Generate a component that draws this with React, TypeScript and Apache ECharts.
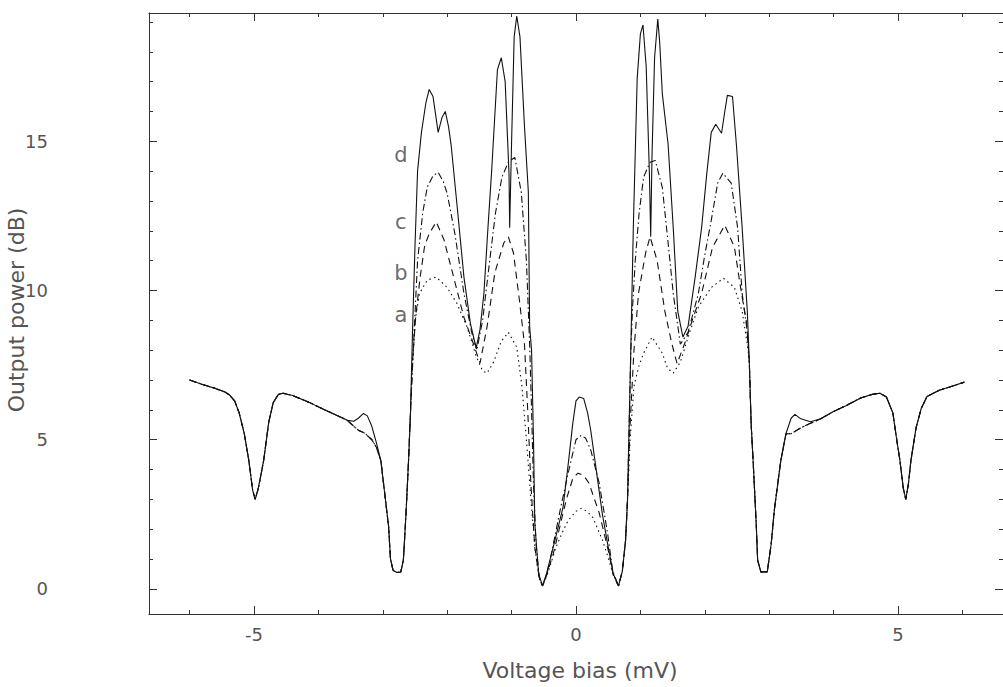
import React, { useEffect, useRef } from "react";
import * as echarts from "echarts";

// ---- data (Voltage bias mV, Output power dB) ----
const leftWing: number[][] = [
  [-6.0, 7.0], [-5.8, 6.85], [-5.6, 6.72], [-5.45, 6.6], [-5.38, 6.5], [-5.3, 6.3], [-5.23, 5.9],
  [-5.15, 5.2], [-5.08, 4.3], [-5.02, 3.3], [-4.98, 3.0], [-4.93, 3.4], [-4.85, 4.3], [-4.77, 5.6],
  [-4.7, 6.25], [-4.62, 6.52], [-4.55, 6.56], [-4.4, 6.48], [-4.15, 6.26], [-3.9, 6.0], [-3.7, 5.8],
  [-3.55, 5.65],
];
const leftShoulderD: number[][] = [[-3.45, 5.62], [-3.38, 5.72], [-3.3, 5.88], [-3.24, 5.8], [-3.17, 5.45], [-3.1, 4.9]];
const leftShoulderABC: number[][] = [[-3.45, 5.45], [-3.38, 5.32], [-3.28, 5.22], [-3.17, 5.0], [-3.1, 4.75]];
const leftDrop: number[][] = [
  [-3.03, 4.3], [-2.97, 3.2], [-2.91, 2.1], [-2.88, 1.0], [-2.84, 0.62], [-2.78, 0.55], [-2.72, 0.57],
  [-2.68, 0.97], [-2.64, 2.5], [-2.6, 4.3], [-2.57, 5.9],
];
const rightDrop: number[][] = [
  [2.72, 5.5], [2.75, 4.3], [2.8, 2.1], [2.82, 0.97], [2.87, 0.57], [2.97, 0.57], [3.03, 1.5],
  [3.08, 2.65], [3.18, 4.3], [3.26, 5.2],
];
const rightShoulderD: number[][] = [[3.34, 5.72], [3.4, 5.85], [3.49, 5.7], [3.64, 5.6]];
const rightShoulderABC: number[][] = [[3.34, 5.2], [3.49, 5.4], [3.64, 5.55]];
const rightWing: number[][] = [
  [3.8, 5.7], [4.0, 5.95], [4.2, 6.15], [4.42, 6.4], [4.6, 6.52], [4.72, 6.56], [4.82, 6.43],
  [4.92, 5.9], [4.98, 5.0], [5.03, 4.3], [5.08, 3.4], [5.12, 3.0], [5.16, 3.5], [5.2, 4.3],
  [5.28, 5.4], [5.36, 6.05], [5.45, 6.45], [5.64, 6.66], [5.85, 6.8], [6.03, 6.93],
];

const coreD: number[][] = [
  [-2.54, 8.5], [-2.5, 11.5], [-2.46, 14.0], [-2.4, 15.3], [-2.33, 16.3], [-2.28, 16.74], [-2.22, 16.5],
  [-2.14, 15.3], [-2.08, 15.8], [-2.03, 16.0], [-1.98, 15.5], [-1.94, 14.9], [-1.84, 12.7], [-1.74, 10.45],
  [-1.64, 8.9], [-1.55, 8.07], [-1.49, 8.7], [-1.43, 9.9], [-1.37, 12.0], [-1.31, 14.0], [-1.22, 17.4],
  [-1.16, 17.8], [-1.1, 17.0], [-1.04, 13.9], [-1.03, 12.1], [-1.0, 15.0], [-0.96, 18.5], [-0.92, 19.2],
  [-0.87, 18.5], [-0.8, 15.5], [-0.74, 13.3], [-0.72, 8.8], [-0.69, 8.0], [-0.66, 5.0], [-0.64, 2.2],
  [-0.58, 0.5], [-0.52, 0.1], [-0.46, 0.5], [-0.33, 1.6], [-0.2, 2.75], [-0.12, 4.2], [-0.05, 5.55],
  [0.0, 6.3], [0.05, 6.43], [0.12, 6.38], [0.18, 5.9], [0.23, 5.3], [0.32, 3.9], [0.41, 2.5], [0.5, 1.4],
  [0.58, 0.5], [0.66, 0.1], [0.72, 0.6], [0.77, 1.64], [0.8, 3.0], [0.82, 5.0], [0.85, 7.9], [0.89, 12.1],
  [0.95, 17.1], [1.0, 18.6], [1.04, 18.9], [1.09, 17.5], [1.14, 13.9], [1.16, 11.8], [1.18, 14.5],
  [1.22, 17.8], [1.27, 19.1], [1.3, 18.3], [1.34, 16.6], [1.43, 14.9], [1.51, 12.1], [1.58, 9.3],
  [1.66, 8.44], [1.74, 8.8], [1.85, 10.45], [1.95, 12.1], [2.03, 13.9], [2.1, 15.3], [2.17, 15.57],
  [2.26, 15.27], [2.31, 16.0], [2.35, 16.54], [2.43, 16.5], [2.49, 14.9], [2.58, 12.1], [2.66, 9.3],
  [2.69, 7.67],
];
const coreC: number[][] = [
  [-2.51, 8.77], [-2.46, 11.0], [-2.38, 12.6], [-2.31, 13.46], [-2.22, 13.85], [-2.14, 13.96],
  [-2.06, 13.65], [-2.0, 13.25], [-1.88, 11.9], [-1.74, 9.9], [-1.62, 8.6], [-1.54, 8.0], [-1.45, 9.0],
  [-1.34, 11.0], [-1.25, 12.6], [-1.15, 13.8], [-1.05, 14.3], [-0.95, 14.46], [-0.85, 13.3], [-0.77, 11.0],
  [-0.72, 8.2], [-0.69, 6.0], [-0.66, 3.5], [-0.62, 1.5], [-0.57, 0.4], [-0.52, 0.1], [-0.45, 0.5],
  [-0.38, 1.2], [-0.25, 2.6], [-0.12, 3.9], [0.0, 5.0], [0.08, 5.15], [0.15, 5.05], [0.23, 4.65],
  [0.36, 3.55], [0.49, 1.87], [0.57, 0.6], [0.66, 0.1], [0.72, 0.6], [0.77, 1.64], [0.8, 3.0], [0.82, 5.0],
  [0.85, 7.9], [0.88, 9.5], [0.92, 11.0], [0.98, 12.6], [1.05, 13.8], [1.15, 14.3], [1.23, 14.36],
  [1.34, 13.46], [1.43, 11.6], [1.51, 9.9], [1.62, 8.2], [1.74, 8.6], [1.9, 9.9], [2.0, 11.2],
  [2.1, 12.35], [2.2, 13.6], [2.28, 13.93], [2.41, 13.6], [2.51, 12.1], [2.58, 9.9], [2.65, 8.77],
  [2.69, 7.67],
];
const coreB: number[][] = [
  [-2.54, 7.57], [-2.49, 9.1], [-2.42, 10.45], [-2.35, 11.5], [-2.28, 11.9], [-2.17, 12.3], [-2.05, 11.7],
  [-1.9, 10.45], [-1.74, 9.1], [-1.59, 8.2], [-1.49, 7.57], [-1.38, 8.8], [-1.26, 10.6], [-1.12, 11.6],
  [-1.05, 11.8], [-0.97, 11.25], [-0.88, 9.7], [-0.8, 8.2], [-0.75, 6.0], [-0.7, 3.5], [-0.64, 1.4],
  [-0.57, 0.35], [-0.52, 0.1], [-0.45, 0.5], [-0.35, 1.2], [-0.25, 2.1], [-0.15, 3.0], [-0.05, 3.7],
  [0.03, 3.88], [0.12, 3.8], [0.2, 3.55], [0.36, 2.55], [0.5, 1.3], [0.58, 0.45], [0.66, 0.1], [0.72, 0.6],
  [0.77, 1.64], [0.8, 3.0], [0.84, 5.5], [0.9, 8.0], [0.97, 9.9], [1.08, 11.25], [1.15, 11.8], [1.26, 11.0],
  [1.38, 9.3], [1.49, 8.2], [1.57, 7.55], [1.7, 8.3], [1.82, 9.1], [1.95, 9.9], [2.12, 11.45], [2.31, 12.19],
  [2.46, 11.45], [2.57, 9.9], [2.65, 8.9], [2.69, 7.67],
];
const coreA: number[][] = [
  [-2.54, 7.57], [-2.49, 9.1], [-2.43, 9.9], [-2.31, 10.35], [-2.17, 10.45], [-2.0, 10.1], [-1.85, 9.57],
  [-1.69, 8.77], [-1.55, 7.8], [-1.45, 7.3], [-1.38, 7.23], [-1.28, 7.6], [-1.16, 8.3], [-1.05, 8.6],
  [-0.92, 8.1], [-0.84, 6.8], [-0.77, 5.0], [-0.7, 3.0], [-0.63, 1.2], [-0.57, 0.35], [-0.52, 0.1],
  [-0.45, 0.45], [-0.31, 1.4], [-0.2, 1.95], [-0.12, 2.3], [0.0, 2.6], [0.08, 2.7], [0.17, 2.6],
  [0.26, 2.4], [0.41, 1.64], [0.5, 1.05], [0.57, 0.53], [0.66, 0.1], [0.72, 0.6], [0.77, 1.64], [0.8, 3.0],
  [0.84, 5.0], [0.9, 6.8], [0.98, 7.5], [1.05, 7.9], [1.18, 8.44], [1.34, 7.9], [1.42, 7.4], [1.51, 7.23],
  [1.62, 7.6], [1.75, 8.5], [1.9, 9.45], [2.1, 10.1], [2.29, 10.41], [2.46, 10.1], [2.58, 9.3],
  [2.66, 8.2], [2.69, 7.67],
];

const curveLabels: (number | string)[][] = [
  [-2.72, 14.53, "d"], [-2.72, 12.3, "c"], [-2.72, 10.58, "b"], [-2.72, 9.18, "a"],
];

const xMajor = [-5, 0, 5];
const xMinor = [-6, -5, -4, -3, -2, -1, 0, 1, 2, 3, 4, 5, 6];
const yMajor = [0, 5, 10, 15];
const yMinor = [0, 1, 2, 3, 4, 5, 6, 7, 8, 9, 10, 11, 12, 13, 14, 15, 16, 17, 18, 19];

const X_MIN = -6.63, X_MAX = 6.63, Y_MIN = -0.84, Y_MAX = 19.3;

export default function App() {
  const ref = useRef<HTMLDivElement>(null);
  useEffect(() => {
    if (!ref.current) return;
    const chart = echarts.init(ref.current, undefined, { renderer: "svg" });
    const axisColor = "#333";
    const textColor = "#555";
    const font = "DejaVu Sans";
    const lineStyleAxis = { color: axisColor, width: 1 };

    const mkX = (pos: string, ticks: number[], len: number, labels: boolean, line: boolean) => ({
      type: "value", min: X_MIN, max: X_MAX, position: pos, gridIndex: 0,
      axisLine: { show: line, onZero: false, lineStyle: lineStyleAxis },
      axisTick: { show: true, inside: true, length: len, customValues: ticks, lineStyle: lineStyleAxis },
      axisLabel: labels
        ? { show: true, customValues: xMajor, margin: 11, fontSize: 18, color: textColor, fontFamily: font }
        : { show: false },
      splitLine: { show: false },
    });
    const mkY = (pos: string, ticks: number[], len: number, labels: boolean, line: boolean) => ({
      type: "value", min: Y_MIN, max: Y_MAX, position: pos, gridIndex: 0,
      axisLine: { show: line, onZero: false, lineStyle: lineStyleAxis },
      axisTick: { show: true, inside: true, length: len, customValues: ticks, lineStyle: lineStyleAxis },
      axisLabel: labels
        ? { show: true, customValues: yMajor, margin: 101, fontSize: 18, color: textColor, fontFamily: font }
        : { show: false },
      splitLine: { show: false },
    });

    const lineSeries = (name: string, data: number[][], type: any) => ({
      name, type: "line", data, xAxisIndex: 0, yAxisIndex: 0, showSymbol: false, symbol: "none",
      lineStyle: { color: "#111", width: 1.1, type }, silent: true,
    });

    const seriesD = [...leftWing, ...leftShoulderD, ...leftDrop, ...coreD, ...rightDrop, ...rightShoulderD, ...rightWing];
    const seriesC = [...leftWing, ...leftShoulderABC, ...leftDrop, ...coreC, ...rightDrop, ...rightShoulderABC, ...rightWing];
    const seriesB = [...leftWing, ...leftShoulderABC, ...leftDrop, ...coreB, ...rightDrop, ...rightShoulderABC, ...rightWing];
    const seriesA = [...leftWing, ...leftShoulderABC, ...leftDrop, ...coreA, ...rightDrop, ...rightShoulderABC, ...rightWing];

    chart.setOption({
      animation: false,
      backgroundColor: "#fff",
      grid: { left: 149, right: -8, top: 13, bottom: 73, containLabel: false },
      xAxis: [
        mkX("bottom", xMajor, 8, true, true),
        mkX("bottom", xMinor, 4, false, false),
        mkX("top", xMajor, 8, false, true),
        mkX("top", xMinor, 4, false, false),
      ],
      yAxis: [
        mkY("left", yMajor, 8, true, true),
        mkY("left", yMinor, 4, false, false),
        mkY("right", yMajor, 8, false, true),
        mkY("right", yMinor, 4, false, false),
      ],
      series: [
        lineSeries("a", seriesA, [1.5, 3.5]),
        lineSeries("b", seriesB, [7, 5]),
        lineSeries("c", seriesC, [7, 3, 1.5, 3]),
        lineSeries("d", seriesD, "solid"),
        {
          type: "scatter", xAxisIndex: 0, yAxisIndex: 0, symbolSize: 0, silent: true,
          data: curveLabels,
          label: {
            show: true, position: "inside", fontSize: 21, color: "#444", fontFamily: font,
            formatter: (p: any) => p.data[2],
          },
        },
      ],
      graphic: [
        {
          type: "text", x: 580, y: 670,
          style: {
            text: "Voltage bias (mV)", fontSize: 22, fill: textColor, fontFamily: font,
            align: "center", verticalAlign: "middle", textAlign: "center", textVerticalAlign: "middle",
          },
        },
        {
          type: "text", x: 16, y: 310, rotation: Math.PI / 2,
          style: {
            text: "Output power (dB)", fontSize: 22, fill: textColor, fontFamily: font,
            align: "center", verticalAlign: "middle", textAlign: "center", textVerticalAlign: "middle",
          },
        },
      ],
    });
    return () => chart.dispose();
  }, []);
  return <div ref={ref} style={{ position: "fixed", left: 0, top: 0, width: 1003, height: 687 }} />;
}
